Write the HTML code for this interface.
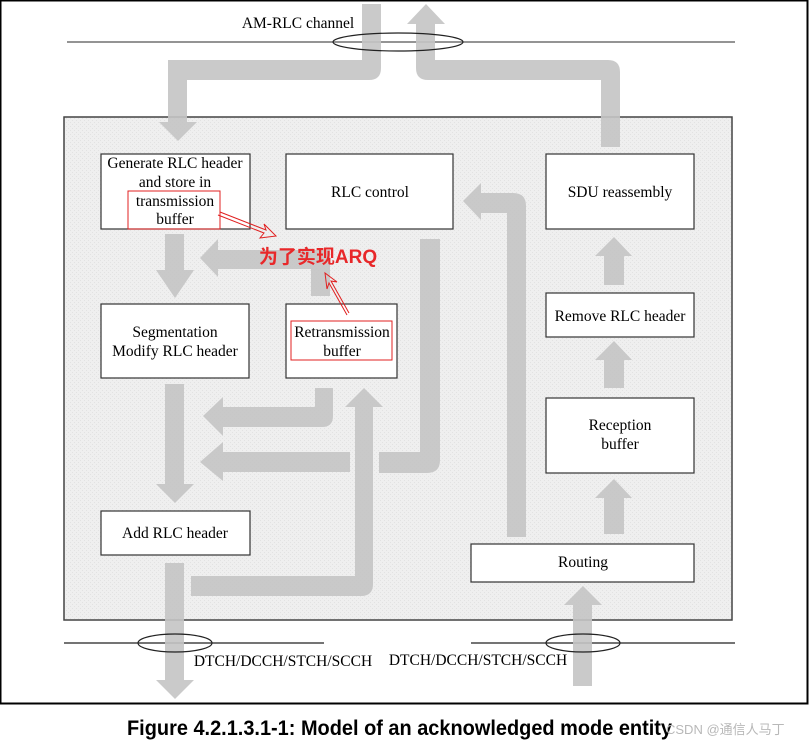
<!DOCTYPE html>
<html><head><meta charset="utf-8"><style>
html,body{margin:0;padding:0;background:#fff;}
svg{display:block}
</style></head><body>
<svg width="809" height="742" viewBox="0 0 809 742" xmlns="http://www.w3.org/2000/svg">
<defs>
<pattern id="dots" width="4" height="4" patternUnits="userSpaceOnUse">
<rect width="4" height="4" fill="#efefef"/><rect width="1" height="1" fill="#e2e2e2"/><rect x="2" y="2" width="1" height="1" fill="#e2e2e2"/>
</pattern>
</defs>
<rect x="0.5" y="0.5" width="807" height="703" fill="#fff" stroke="#000" stroke-width="2"/>
<rect x="64" y="117" width="668" height="503" fill="url(#dots)" stroke="#444" stroke-width="1.5"/>
<line x1="67" y1="42" x2="735" y2="42" stroke="#555" stroke-width="1.2"/>
<line x1="64" y1="643" x2="324" y2="643" stroke="#222" stroke-width="1.2"/>
<line x1="471" y1="643" x2="735" y2="643" stroke="#222" stroke-width="1.2"/>
<g fill="#c4c4c4" fill-opacity="0.9">
<path d="M362 4 H381 V68 Q381 80 369 80 H187 V122 H197 L178 141 L159 122 H168 V60 H362 Z"/>
<path d="M416 24 H407 L426 4 L445 24 H435 V60 H608 Q620 60 620 72 V147 H601 V80 H428 Q416 80 416 68 Z"/>
<path d="M165 234 H184 V270 H194 L175 298 L156 270 H165 Z"/>
<path d="M330 296 H311 V269 H218 V277 L200 258 L218 239 V250 H330 Z"/>
<path d="M420 239 H440 V460 Q440 473 427 473 H379 V452 H420 Z"/>
<path d="M507 537 H526 V206 Q526 193 513 193 H481 V183 L463 201 L481 220 V213 H507 Z"/>
<path d="M315 388 H333 V416 Q333 427 322 427 H223 V436 L203 416 L223 397 V407 H315 Z"/>
<path d="M350 452 V472 H223 V481 L200 462 L223 442 V452 Z"/>
<path d="M191 576 H355 V407 H345 L364 388 L383 407 H373 V584 Q373 596 361 596 H191 Z"/>
<path d="M165 384 H184 V484 H194 L175 503 L156 484 H165 Z"/>
<path d="M165 563 H184 V680 H194 L175 699 L156 680 H165 Z"/>
<path d="M604 285 H624 V256 H632 L614 237 L595 256 H604 Z"/>
<path d="M604 388 H624 V360 H632 L614 341 L595 360 H604 Z"/>
<path d="M604 534 H624 V498 H632 L614 479 L595 498 H604 Z"/>
<path d="M573 686 H592 V605 H602 L583 586 L564 605 H573 Z"/>
</g>
<ellipse cx="398" cy="42" rx="65" ry="9" fill="none" stroke="#222" stroke-width="1.2"/>
<ellipse cx="175" cy="643" rx="37" ry="9" fill="none" stroke="#222" stroke-width="1.2"/>
<ellipse cx="583" cy="643" rx="37" ry="9" fill="none" stroke="#222" stroke-width="1.2"/>
<g fill="#fff" stroke="#333" stroke-width="1.2">
<rect x="101" y="154" width="149" height="75"/>
<rect x="286" y="154" width="167" height="75"/>
<rect x="546" y="154" width="148" height="75"/>
<rect x="101" y="304" width="148" height="74"/>
<rect x="286" y="304" width="111" height="74"/>
<rect x="546" y="293" width="148" height="44"/>
<rect x="546" y="398" width="148" height="75"/>
<rect x="101" y="511" width="149" height="44"/>
<rect x="471" y="544" width="223" height="38"/>
</g>
<g fill="none" stroke="#e02020" stroke-width="1">
<rect x="128" y="191" width="92" height="38"/>
<rect x="291" y="321" width="101" height="39"/>
<path d="M220 212 L266 230 L264 224 L276 236 L260 238 L264 233 L218 215"/>
<path d="M347 315 L329 283 L327 289 L325 273 L337 282 L331 281 L349 313"/>
</g>
<g font-family="Liberation Serif, serif" font-size="15.5" fill="#000" text-anchor="middle">
<text x="298" y="28">AM-RLC channel</text>
<text x="175" y="168">Generate RLC header</text>
<text x="175" y="187">and store in</text>
<text x="175" y="206">transmission</text>
<text x="175" y="224">buffer</text>
<text x="370" y="197">RLC control</text>
<text x="620" y="197">SDU reassembly</text>
<text x="175" y="337">Segmentation</text>
<text x="175" y="356">Modify RLC header</text>
<text x="342" y="337">Retransmission</text>
<text x="342" y="356">buffer</text>
<text x="620" y="321">Remove RLC header</text>
<text x="620" y="430">Reception</text>
<text x="620" y="449">buffer</text>
<text x="175" y="538">Add RLC header</text>
<text x="583" y="567">Routing</text>
<text x="283" y="666">DTCH/DCCH/STCH/SCCH</text>
<text x="478" y="665">DTCH/DCCH/STCH/SCCH</text>
</g>
<text x="318" y="263" font-family="Liberation Sans, 'Noto Sans CJK SC', sans-serif" font-size="19" font-weight="bold" fill="#e8282a" text-anchor="middle">为了实现ARQ</text>
<text x="127" y="735" font-family="'Liberation Sans Narrow', 'Liberation Sans', sans-serif" font-size="21" font-weight="bold" fill="#000" textLength="545" lengthAdjust="spacingAndGlyphs">Figure 4.2.1.3.1-1: Model of an acknowledged mode entity</text>
<text x="666" y="734" font-family="Liberation Sans, 'Noto Sans CJK SC', sans-serif" font-size="13" fill="#b8b8b8">CSDN @通信人马丁</text>
</svg>
</body></html>
